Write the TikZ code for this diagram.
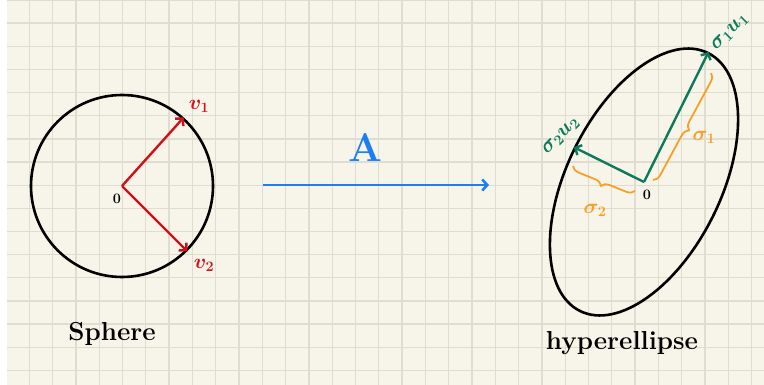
\documentclass[tikz,border=0pt]{standalone}
\usepackage{amsmath,amssymb}
\usepackage{xcolor}
\definecolor{svdpaper}{HTML}{F7F5E9}
\definecolor{svdgrid}{HTML}{DEDDCF}
\definecolor{svdred}{HTML}{D11118}
\definecolor{svdgreen}{HTML}{0E7A5B}
\definecolor{svdorange}{HTML}{F5A027}
\definecolor{svdblue}{HTML}{1C7DF5}
\usepackage{tikz}
\usetikzlibrary{arrows.meta,shapes.geometric,decorations.pathreplacing,calc}
\tikzset{
  svdshape/.style={draw=black,line width=2.6pt,inner sep=0pt},
  svdvec/.style={-{Straight Barb[length=5pt,width=11pt]},line width=2.4pt},
  svdbrace/.style={draw=svdorange,line width=1.8pt,decorate,decoration={brace,amplitude=8pt}},
  svdlabel/.style={font=\fontsize{22}{24}\selectfont\boldmath,inner sep=0pt},
  svdorigin/.style={font=\fontsize{15}{16}\selectfont\boldmath,inner sep=0pt},
  svdword/.style={font=\fontsize{26}{30}\selectfont\bfseries,inner sep=0pt},
}

\begin{document}
\begin{tikzpicture}[x=1pt,y=-1pt]
 % squared notebook paper
\useasboundingbox (0,0) rectangle (764,385);
\fill[white] (0,0) rectangle (764,385);
\fill[svdpaper] (7,0) rectangle (764,385);
\foreach \k in {1,...,32} \draw[svdgrid,line width=1.3pt] ({6+23.3*\k},0) -- ({6+23.3*\k},385);
\foreach \k in {0,...,16} \draw[svdgrid,line width=1.3pt] (7,{23.15*\k}) -- (764,{23.15*\k});
 % unit sphere
\node[svdshape,circle,minimum size=182pt] (sphere) at (122,186) {};
\draw[svdvec,svdred] (sphere.center) -- (sphere.48);
\draw[svdvec,svdred] (sphere.center) -- (sphere.-45);
\node[svdlabel,svdred] (v1) at (199,106) {$v_1$};
\node[svdlabel,svdred] (v2) at (204,265) {$v_2$};
\node[svdorigin] (o1) at (117,199) {$0$};
\node[svdword] (sphname) at (112,334) {Sphere};
 % the map A
\coordinate (mapfrom) at (263,185);
\coordinate (mapto) at (489,185);
\draw[svdvec,svdblue,line width=2.6pt] (mapfrom) -- (mapto);
\node[svdblue,font=\fontsize{40}{44}\selectfont\bfseries,inner sep=0pt] (mapA) at (365,148) {A};
 % hyperellipse
\node[svdshape,ellipse,minimum width=288pt,minimum height=154pt,rotate=63.6] (hyper) at (644,182) {};
\draw[svdvec,svdgreen] (hyper.center) -- (hyper.east);
\draw[svdvec,svdgreen] (hyper.center) -- (hyper.north);
\node[svdlabel,svdgreen,rotate=45] (s1u1) at (730,32) {$\sigma_1u_1$};
\node[svdlabel,svdgreen,rotate=45] (s2u2) at (561,136) {$\sigma_2u_2$};
\node[svdorigin] (o2) at (647,195) {$0$};
\coordinate (b1top) at (711,73);
\coordinate (b1bot) at (653,180);
\draw[svdbrace] (b1top) -- (b1bot);
\node[svdlabel,svdorange] (s1) at (704,137) {$\sigma_1$};
\coordinate (b2right) at (635,191);
\coordinate (b2left) at (573,166);
\draw[svdbrace] (b2right) -- (b2left);
\node[svdlabel,svdorange] (s2) at (595,210) {$\sigma_2$};
\node[svdword] (hypname) at (622,343) {hyperellipse};
\end{tikzpicture}
\end{document}
